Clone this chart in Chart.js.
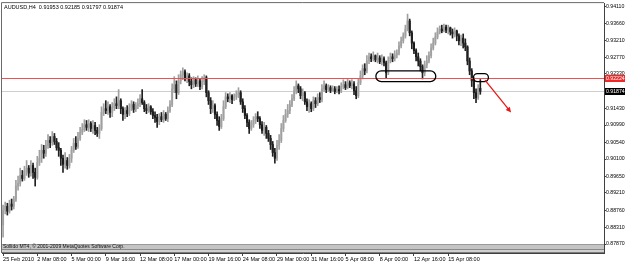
<!DOCTYPE html>
<html><head><meta charset="utf-8">
<script src="https://cdn.jsdelivr.net/npm/chart.js@4/dist/chart.umd.min.js"></script>
<style>html,body{margin:0;padding:0;background:#fff;overflow:hidden}canvas{display:block}</style>
</head><body>
<canvas id="c" width="625" height="263"></canvas>
<script>
const symbolTitle = "AUDUSD,H4";
const copyright = "Sollido MT4, \u00a9 2001-2009 MetaQuotes Software Corp.";

const openP = [.8837,.8876,.8886,.8873,.8892,.8886,.8905,.8939,.8946,.8967,
.8959,.8978,.8986,.8973,.8993,.8975,.8962,.9001,.9012,.9033,
.9025,.9046,.9059,.9053,.9069,.9056,.9040,.9033,.9012,.8996,
.9006,.8993,.9012,.9033,.9051,.9043,.9064,.9080,.9087,.9100,
.9093,.9103,.9090,.9098,.9085,.9077,.9090,.9132,.9142,.9137,
.9147,.9132,.9145,.9155,.9150,.9163,.9142,.9127,.9137,.9129,
.9145,.9153,.9140,.9150,.9155,.9168,.9158,.9142,.9137,.9147,
.9134,.9124,.9119,.9108,.9121,.9113,.9127,.9116,.9137,.9153,
.9194,.9205,.9184,.9215,.9231,.9239,.9223,.9228,.9213,.9205,
.9218,.9207,.9215,.9200,.9213,.9223,.9184,.9163,.9142,.9150,
.9127,.9111,.9095,.9116,.9147,.9173,.9168,.9176,.9166,.9173,
.9179,.9184,.9160,.9142,.9124,.9106,.9090,.9100,.9111,.9121,
.9116,.9100,.9085,.9093,.9077,.9064,.9048,.9027,.9012,.9046,
.9059,.9090,.9111,.9127,.9137,.9153,.9168,.9189,.9202,.9194,
.9176,.9184,.9160,.9147,.9155,.9142,.9163,.9155,.9171,.9166,
.9194,.9202,.9192,.9197,.9189,.9194,.9187,.9192,.9189,.9200,
.9205,.9197,.9210,.9202,.9207,.9189,.9176,.9210,.9228,.9247,
.9241,.9267,.9278,.9273,.9281,.9270,.9275,.9265,.9273,.9262,
.9236,.9267,.9278,.9273,.9283,.9288,.9307,.9320,.9333,.9351,
.9372,.9341,.9314,.9294,.9278,.9267,.9252,.9236,.9257,.9267,
.9281,.9301,.9314,.9330,.9343,.9351,.9346,.9356,.9348,.9354,
.9343,.9338,.9346,.9333,.9320,.9327,.9314,.9304,.9267,.9241,
.9215,.9184,.9171,.91953];

const highP = [.8889,.8897,.8894,.8902,.8905,.8912,.8954,.8965,.8986,.8980,
.8991,.9006,.8993,.9006,.8999,.8986,.9017,.9033,.9048,.9046,
.9059,.9074,.9069,.9082,.9077,.9064,.9053,.9038,.9020,.9027,
.9014,.9022,.9043,.9064,.9069,.9080,.9093,.9103,.9113,.9111,
.9113,.9108,.9111,.9106,.9093,.9100,.9147,.9155,.9163,.9160,
.9153,.9158,.9168,.9173,.9192,.9168,.9147,.9145,.9150,.9155,
.9163,.9160,.9158,.9168,.9179,.9192,.9163,.9153,.9155,.9150,
.9142,.9134,.9127,.9129,.9132,.9137,.9132,.9147,.9163,.9207,
.9226,.9215,.9231,.9241,.9249,.9244,.9236,.9234,.9223,.9226,
.9223,.9228,.9220,.9226,.9231,.9228,.9189,.9171,.9163,.9155,
.9134,.9121,.9127,.9163,.9184,.9181,.9184,.9179,.9181,.9189,
.9197,.9189,.9168,.9150,.9129,.9113,.9111,.9121,.9129,.9134,
.9121,.9108,.9106,.9098,.9085,.9072,.9056,.9038,.9059,.9074,
.9103,.9124,.9140,.9153,.9163,.9179,.9200,.9215,.9207,.9200,
.9194,.9187,.9168,.9166,.9160,.9173,.9171,.9181,.9184,.9205,
.9215,.9207,.9205,.9202,.9202,.9200,.9200,.9202,.9210,.9218,
.9213,.9220,.9215,.9218,.9213,.9200,.9220,.9241,.9257,.9260,
.9281,.9288,.9286,.9291,.9283,.9288,.9281,.9283,.9278,.9267,
.9278,.9288,.9286,.9294,.9296,.9317,.9330,.9341,.9361,.9390,
.9377,.9346,.9317,.9299,.9288,.9273,.9257,.9267,.9281,.9291,
.9312,.9327,.9341,.9354,.9359,.9361,.9364,.9361,.9361,.9356,
.9351,.9354,.9348,.9338,.9335,.9338,.9325,.9307,.9275,.9247,
.9223,.9194,.9205,.92185];

const lowP = [.8805,.8866,.8863,.8868,.8876,.8879,.8899,.8928,.8939,.8952,
.8954,.8967,.8962,.8965,.8959,.8939,.8957,.8993,.9001,.9012,
.9017,.9038,.9040,.9046,.9048,.9033,.9017,.8993,.8975,.8986,
.8983,.8986,.9001,.9027,.9035,.9038,.9059,.9074,.9082,.9085,
.9082,.9082,.9077,.9074,.9069,.9064,.9085,.9124,.9129,.9127,
.9119,.9121,.9137,.9142,.9142,.9129,.9111,.9116,.9121,.9124,
.9137,.9132,.9134,.9142,.9147,.9153,.9134,.9129,.9132,.9127,
.9116,.9106,.9093,.9100,.9108,.9106,.9111,.9108,.9132,.9147,
.9184,.9168,.9179,.9207,.9218,.9215,.9210,.9202,.9194,.9197,
.9200,.9200,.9192,.9194,.9205,.9173,.9153,.9129,.9132,.9116,
.9098,.9085,.9090,.9111,.9142,.9160,.9158,.9155,.9163,.9166,
.9171,.9153,.9132,.9116,.9095,.9077,.9085,.9093,.9103,.9108,
.9090,.9077,.9072,.9064,.9056,.9035,.9017,.8999,.9006,.9035,
.9053,.9082,.9106,.9119,.9129,.9147,.9163,.9181,.9184,.9168,
.9163,.9153,.9137,.9132,.9134,.9137,.9145,.9150,.9158,.9160,
.9187,.9184,.9187,.9184,.9187,.9181,.9184,.9181,.9184,.9194,
.9192,.9194,.9197,.9194,.9179,.9168,.9171,.9205,.9220,.9231,
.9236,.9260,.9265,.9267,.9265,.9262,.9260,.9257,.9254,.9223,
.9231,.9262,.9265,.9267,.9275,.9283,.9301,.9314,.9327,.9346,
.9333,.9299,.9286,.9267,.9254,.9241,.9220,.9228,.9249,.9262,
.9275,.9296,.9309,.9325,.9338,.9341,.9343,.9341,.9338,.9335,
.9327,.9330,.9320,.9309,.9307,.9301,.9294,.9257,.9231,.9200,
.9168,.9158,.9166,.91797];

const closeP = [.8876,.8886,.8873,.8892,.8886,.8905,.8939,.8946,.8967,.8959,
.8978,.8986,.8973,.8993,.8975,.8962,.9001,.9012,.9033,.9025,
.9046,.9059,.9053,.9069,.9056,.9040,.9033,.9012,.8996,.9006,
.8993,.9012,.9033,.9051,.9043,.9064,.9080,.9087,.9100,.9093,
.9103,.9090,.9098,.9085,.9077,.9090,.9132,.9142,.9137,.9147,
.9132,.9145,.9155,.9150,.9163,.9142,.9127,.9137,.9129,.9145,
.9153,.9140,.9150,.9155,.9168,.9158,.9142,.9137,.9147,.9134,
.9124,.9119,.9108,.9121,.9113,.9127,.9116,.9137,.9153,.9194,
.9205,.9184,.9215,.9231,.9239,.9223,.9228,.9213,.9205,.9218,
.9207,.9215,.9200,.9213,.9223,.9184,.9163,.9142,.9150,.9127,
.9111,.9095,.9116,.9147,.9173,.9168,.9176,.9166,.9173,.9179,
.9184,.9160,.9142,.9124,.9106,.9090,.9100,.9111,.9121,.9116,
.9100,.9085,.9093,.9077,.9064,.9048,.9027,.9012,.9046,.9059,
.9090,.9111,.9127,.9137,.9153,.9168,.9189,.9202,.9194,.9176,
.9184,.9160,.9147,.9155,.9142,.9163,.9155,.9171,.9166,.9194,
.9202,.9192,.9197,.9189,.9194,.9187,.9192,.9189,.9200,.9205,
.9197,.9210,.9202,.9207,.9189,.9176,.9210,.9228,.9247,.9241,
.9267,.9278,.9273,.9281,.9270,.9275,.9265,.9273,.9262,.9236,
.9267,.9278,.9273,.9283,.9288,.9307,.9320,.9333,.9351,.9372,
.9341,.9314,.9294,.9278,.9267,.9252,.9236,.9257,.9267,.9281,
.9301,.9314,.9330,.9343,.9351,.9346,.9356,.9348,.9354,.9343,
.9338,.9346,.9333,.9320,.9327,.9314,.9304,.9267,.9241,.9215,
.9184,.9171,.9194,.91874];

const xTickIdx = [0,16,32,48,64,80,96,112,128,144,160,176,192,208];
const xTickLabels = ["25 Feb 2010","2 Mar 08:00","5 Mar 00:00","9 Mar 16:00","12 Mar 08:00",
  "17 Mar 00:00","19 Mar 16:00","24 Mar 08:00","29 Mar 00:00","31 Mar 16:00",
  "5 Apr 08:00","8 Apr 00:00","12 Apr 16:00","15 Apr 08:00"];
const yTickVals = [0.94110,0.93660,0.93210,0.92770,0.92330,0.91890,0.91430,0.90990,
  0.90540,0.90100,0.89650,0.89210,0.88760,0.88310,0.87870];
const levelPrice = 0.92224;
const zoneFrom = [174.2, 219.8];
const zoneTo   = [202.2, 226.8];
const zoneTop  = [0.9241, 0.9234];
const zoneBot  = [0.9213, 0.9213];
const arrowFrom = [225.2, 0.9217];
const arrowTo   = [237.4, 0.9132];

const n = closeP.length;
const wick = [], body = [];
for (let i = 0; i < n; i++) {
  wick.push({x: i, y: [lowP[i], highP[i]]});
  body.push({x: i, y: [openP[i], closeP[i]]});
}
const cols = closeP.map((c, i) => c >= openP[i] ? '#b4b4b4' : '#000000');
const wickCols = closeP.map((c, i) => c >= openP[i] ? '#a0a0a0' : '#202020');
const FONT = 'Liberation Sans, Arial, sans-serif';

const decor = {
  id: 'decor',
  beforeDraw(ch) {
    const c = ch.ctx; c.save(); c.fillStyle = '#fff'; c.fillRect(0, 0, ch.width, ch.height); c.restore();
  },
  beforeDatasetsDraw(ch) {
    const c = ch.ctx, a = ch.chartArea, y = ch.scales.y;
    const py = Math.round(y.getPixelForValue(closeP[n - 1])) + 0.5;
    c.save(); c.strokeStyle = '#cfcfcf'; c.lineWidth = 1;
    c.beginPath(); c.moveTo(a.left, py); c.lineTo(a.right, py); c.stroke(); c.restore();
  },
  afterDatasetsDraw(ch) {
    const c = ch.ctx, a = ch.chartArea, x = ch.scales.x, y = ch.scales.y;
    c.save();
    const pr = Math.round(y.getPixelForValue(levelPrice)) + 0.5;
    c.strokeStyle = '#f25050'; c.lineWidth = 1;
    c.beginPath(); c.moveTo(a.left, pr); c.lineTo(a.right, pr); c.stroke();
    c.strokeStyle = '#000'; c.lineWidth = 1.3;
    for (let k = 0; k < zoneFrom.length; k++) {
      const x0 = x.getPixelForValue(zoneFrom[k]), x1 = x.getPixelForValue(zoneTo[k]);
      const y0 = y.getPixelForValue(zoneTop[k]), y1 = y.getPixelForValue(zoneBot[k]);
      const r = Math.min((y1 - y0) / 2, (x1 - x0) / 2);
      c.beginPath();
      c.moveTo(x0 + r, y0); c.lineTo(x1 - r, y0);
      c.arc(x1 - r, y0 + r, r, -Math.PI / 2, Math.PI / 2);
      c.lineTo(x0 + r, y1);
      c.arc(x0 + r, y0 + r, r, Math.PI / 2, Math.PI * 1.5);
      c.closePath(); c.stroke();
    }
    const ax0 = x.getPixelForValue(arrowFrom[0]), ay0 = y.getPixelForValue(arrowFrom[1]);
    const ax1 = x.getPixelForValue(arrowTo[0]), ay1 = y.getPixelForValue(arrowTo[1]);
    const ang = Math.atan2(ay1 - ay0, ax1 - ax0);
    c.strokeStyle = '#e81818'; c.fillStyle = '#e81818'; c.lineWidth = 1.3;
    c.beginPath(); c.moveTo(ax0, ay0); c.lineTo(ax1 - 3 * Math.cos(ang), ay1 - 3 * Math.sin(ang)); c.stroke();
    c.beginPath(); c.moveTo(ax1, ay1);
    c.lineTo(ax1 - 6 * Math.cos(ang - 0.45), ay1 - 6 * Math.sin(ang - 0.45));
    c.lineTo(ax1 - 6 * Math.cos(ang + 0.45), ay1 - 6 * Math.sin(ang + 0.45));
    c.closePath(); c.fill();
    c.restore();
  },
  afterDraw(ch) {
    const c = ch.ctx, a = ch.chartArea, y = ch.scales.y;
    c.save();
    c.strokeStyle = '#6a6a6a'; c.lineWidth = 1;
    c.beginPath(); c.moveTo(a.left - 0.5, a.bottom); c.lineTo(a.left - 0.5, a.top - 0.5); c.lineTo(a.right, a.top - 0.5); c.stroke();
    c.fillStyle = '#fff'; c.fillRect(a.left, 244, a.right - a.left, a.bottom - 244);
    c.fillStyle = '#9a9a9a'; c.fillRect(a.left, 244, a.right - a.left, 1);
    c.fillStyle = '#c4c4c4'; c.fillRect(a.left, 245, a.right - a.left, 4);
    c.fillStyle = '#8a8a8a'; c.fillRect(a.left, 249, a.right - a.left, 1);
    c.fillStyle = '#d0d0d0'; c.fillRect(a.left, 250, a.right - a.left, 2);
    c.fillStyle = '#7a7a7a'; c.fillRect(a.left, 252, a.right - a.left, 1);
    c.font = '5px ' + FONT; c.fillStyle = '#111'; c.textBaseline = 'middle'; c.textAlign = 'left';
    c.fillText(copyright, a.left + 1, 247);
    c.font = '5.5px ' + FONT; c.fillStyle = '#000';
    const last = n - 1;
    c.fillText(symbolTitle + '  ' + openP[last].toFixed(5) + ' ' + highP[last].toFixed(5) + ' ' +
      lowP[last].toFixed(5) + ' ' + closeP[last].toFixed(5), a.left + 2, 7);
    c.font = '5.2px ' + FONT;
    const box = (val, bg) => {
      const py = Math.round(y.getPixelForValue(val));
      c.fillStyle = bg; c.fillRect(a.right + 1, py - 3, 21, 7);
      c.fillStyle = '#fff'; c.fillText(val.toFixed(5), a.right + 2, py + 0.5);
    };
    box(levelPrice, '#f02828');
    box(closeP[last], '#000');
    c.restore();
  }
};

new Chart(document.getElementById('c'), {
  type: 'bar',
  data: { datasets: [
    { data: wick, backgroundColor: wickCols, barThickness: 1, grouped: false, borderWidth: 0, minBarLength: 1 },
    { data: body, backgroundColor: cols, barThickness: 1.4, grouped: false, borderWidth: 0, minBarLength: 1 }
  ]},
  options: {
    responsive: false, animation: false, devicePixelRatio: 1,
    layout: { padding: { left: 2, top: 2, right: 0, bottom: 0 } },
    plugins: { legend: { display: false }, tooltip: { enabled: false } },
    scales: {
      x: {
        type: 'linear', min: -0.5, max: 280.8, offset: false,
        afterBuildTicks: s => { s.ticks = xTickIdx.map(v => ({ value: v })); },
        afterFit: s => { s.height = 10; },
        ticks: { autoSkip: false, maxRotation: 0, minRotation: 0, align: 'start', padding: 0,
          font: { family: FONT, size: 5.5 }, color: '#000', callback: (v, i) => xTickLabels[i] },
        grid: { offset: false, drawOnChartArea: false, drawTicks: true, tickLength: 3, color: '#404040' },
        border: { display: true, color: '#404040' }
      },
      y: {
        type: 'linear', position: 'right', min: 0.87635, max: 0.94188, beginAtZero: false,
        afterBuildTicks: s => { s.ticks = yTickVals.map(v => ({ value: v })); },
        afterFit: s => { s.width = 21; },
        ticks: { padding: 0, font: { family: FONT, size: 5.2 }, color: '#000', callback: v => v.toFixed(5) },
        grid: { drawOnChartArea: false, drawTicks: true, tickLength: 2, color: '#404040' },
        border: { display: true, color: '#404040' }
      }
    }
  },
  plugins: [decor]
});
</script>
</body></html>
